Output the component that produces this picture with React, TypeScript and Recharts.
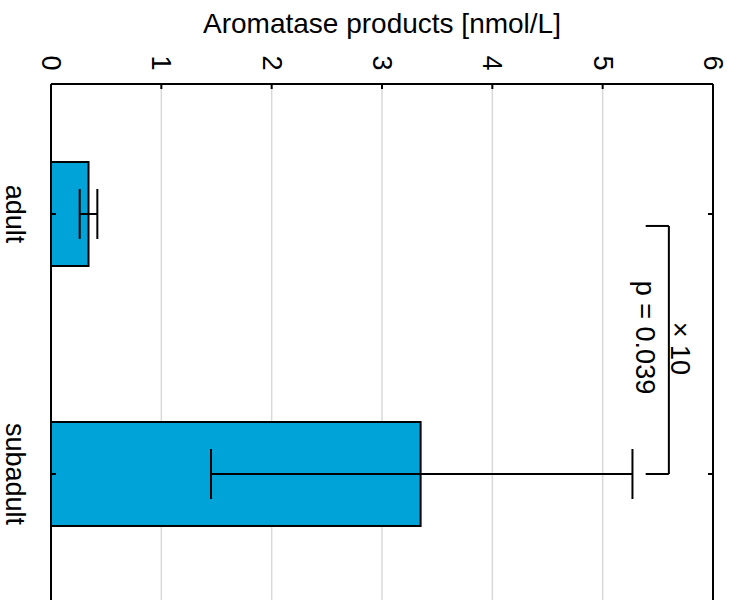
import {
  Bar,
  BarChart,
  CartesianGrid,
  ErrorBar,
  ReferenceDot,
  ReferenceLine,
  XAxis,
  YAxis,
} from "recharts";

const FONT = "'Liberation Sans', Arial, Helvetica, sans-serif";
const FONT_SIZE = 27;

// group means with lower / upper error limits
const groups = ["adult", "subadult"];
const groupPos = [1, 2];
const means = [0.34, 3.35];
const lower = [0.26, 1.45];
const upper = [0.42, 5.27];
const valueTicks = [0, 1, 2, 3, 4, 5, 6];

// significance bracket between the two groups
const bracketX = 5.6;
const bracketArmX = 5.39;
const bracketFrom = 1.046;
const bracketTo = 2;
const factorText = "× 10";
const pText = "p = 0.039";

const data = groups.map((g, i) => ({
  group: g,
  pos: groupPos[i],
  mean: means[i],
  err: [means[i] - lower[i], upper[i] - means[i]],
}));

function RotText({ x, y, text }: { x: number; y: number; text: string }) {
  return (
    <text
      x={x}
      y={y}
      transform={`rotate(90, ${x}, ${y})`}
      textAnchor="middle"
      dominantBaseline="central"
      fontSize={FONT_SIZE}
      fontFamily={FONT}
      fill="#000"
    >
      {text}
    </text>
  );
}

function RotatedTick(props: any) {
  const { x, y, payload, tickFormatter } = props;
  const label = tickFormatter ? tickFormatter(payload.value) : String(payload.value);
  return <RotText x={x} y={y} text={label} />;
}

const EmptyTick = () => <g />;

const groupName = (v: number) => groups[groupPos.indexOf(v)] ?? "";

const line = { stroke: "#000", strokeWidth: 2 };

export default function App() {
  return (
    <div
      style={{
        position: "absolute",
        left: 0,
        top: 0,
        width: 739,
        height: 600,
        overflow: "hidden",
        background: "#fff",
      }}
    >
      <BarChart
        width={739}
        height={620}
        data={data}
        layout="vertical"
        margin={{ top: 40, right: 16, bottom: 16, left: 0 }}
      >
        <CartesianGrid horizontal={false} stroke="#d9d9d9" strokeWidth={1.5} />
        <XAxis
          type="number"
          orientation="top"
          domain={[0, 6]}
          ticks={valueTicks}
          height={44}
          axisLine={line}
          tickLine={line}
          tickSize={-5}
          tickMargin={26}
          tick={<RotatedTick />}
          label={{
            value: "Aromatase products [nmol/L]",
            position: "top",
            offset: 7,
            fontSize: 28,
            fontFamily: FONT,
            fill: "#000",
          }}
        />
        <YAxis
          type="number"
          dataKey="pos"
          domain={[0.5, 2.5]}
          ticks={groupPos}
          allowDataOverflow
          width={51}
          axisLine={line}
          tickLine={line}
          tickSize={-5}
          tickMargin={41}
          tickFormatter={groupName}
          tick={<RotatedTick />}
        />
        <YAxis
          yAxisId="right"
          type="number"
          dataKey="pos"
          orientation="right"
          domain={[0.5, 2.5]}
          ticks={groupPos}
          allowDataOverflow
          width={10}
          axisLine={line}
          tickLine={line}
          tickSize={-5}
          tick={<EmptyTick />}
        />
        <Bar
          dataKey="mean"
          fill="#00a3d7"
          stroke="#000"
          strokeWidth={2}
          barSize={104}
          isAnimationActive={false}
        >
          <ErrorBar dataKey="err" direction="x" width={25} stroke="#000" strokeWidth={2} />
        </Bar>
        <ReferenceLine
          segment={[
            { x: bracketArmX, y: bracketFrom },
            { x: bracketX, y: bracketFrom },
          ]}
          ifOverflow="visible"
          {...line}
        />
        <ReferenceLine
          segment={[
            { x: bracketX, y: bracketFrom },
            { x: bracketX, y: bracketTo },
          ]}
          ifOverflow="visible"
          {...line}
        />
        <ReferenceLine
          segment={[
            { x: bracketArmX, y: bracketTo },
            { x: bracketX, y: bracketTo },
          ]}
          ifOverflow="visible"
          {...line}
        />
        <ReferenceDot
          x={5.7}
          y={1.517}
          r={0}
          ifOverflow="visible"
          shape={(p: any) => <RotText x={p.cx} y={p.cy} text={factorText} />}
        />
        <ReferenceDot
          x={5.38}
          y={1.475}
          r={0}
          ifOverflow="visible"
          shape={(p: any) => <RotText x={p.cx} y={p.cy} text={pText} />}
        />
      </BarChart>
    </div>
  );
}
